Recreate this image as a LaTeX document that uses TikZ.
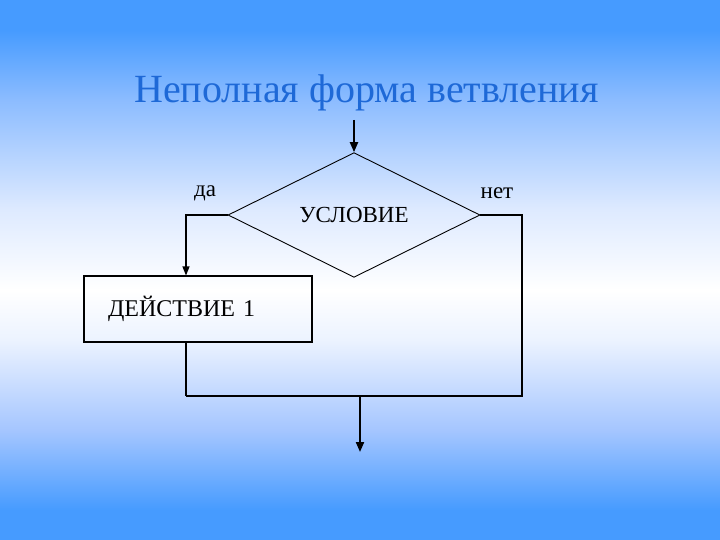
\documentclass[tikz,border=0pt]{standalone}
\usepackage{fontspec}
\setmainfont{Liberation Serif}
\usetikzlibrary{shapes.geometric,arrows.meta}
\definecolor{bgA}{RGB}{70,155,255}
\definecolor{bgB}{RGB}{140,188,255}
\definecolor{bgC}{RGB}{222,234,255}
\definecolor{bgD}{RGB}{236,243,255}
\definecolor{bgE}{RGB}{165,198,255}
\definecolor{titleblue}{RGB}{30,105,215}
\pgfdeclareverticalshading{slidebg}{100bp}{%
  color(0bp)=(bgA); color(25bp)=(bgA); color(27.78bp)=(bgA); color(35.19bp)=(bgE);
  color(43.52bp)=(bgD); color(48.15bp)=(white); color(55.56bp)=(bgC);
  color(65.74bp)=(bgB); color(72.22bp)=(bgA); color(75bp)=(bgA); color(100bp)=(bgA)}
\tikzset{
  flow/.style={draw=black, line width=1.2pt},
  arr/.style={flow, -{Triangle[length=9pt,width=7pt]}},
  bigarr/.style={draw=black, line width=2pt, -{Triangle[length=10pt,width=8pt]}},
  lbl/.style={font=\fontsize{23}{26}\selectfont, text=black, inner sep=0pt},
}
\begin{document}
\begin{tikzpicture}[x=1pt,y=-1pt]
\useasboundingbox (0,0) rectangle (720,540);
\shade[shading=slidebg] (0,0) rectangle (720,540);

\node[anchor=base, text=titleblue, font=\fontsize{40}{44}\selectfont, inner sep=0pt] (title) at (366.5,103) {Неполная форма ветвления};

\node[diamond, draw=black, line width=0.9pt, minimum width=252pt, minimum height=107pt, inner sep=0pt, lbl] (cond) at (354,215) {УСЛОВИЕ};

\node[rectangle, draw=black, line width=1.1pt, minimum width=228pt, minimum height=66pt, inner xsep=24pt, text width=180pt, align=left, lbl, font=\fontsize{24}{26}\selectfont] (act) at (198,309) {\raisebox{-8.5pt}{ДЕЙСТВИЕ 1}};

\node[lbl] (yes) at (205,193) {да};
\node[lbl] (no) at (497,193) {нет};

\coordinate (start) at (354,120);
\coordinate (lx) at (186,0);
\coordinate (rj) at (522,396);
\coordinate (lj) at (186,396);
\coordinate (mj) at (360,396);
\coordinate (finish) at (360,452);

\draw[bigarr] (start) -- (cond.north);
\draw[arr] (cond.west) -| (lx |- act.north);
\draw[flow] (cond.east) -| (rj) -- (lj);
\draw[flow] (lx |- act.south) -- (lj);
\draw[bigarr] (mj) -- (finish);
\end{tikzpicture}
\end{document}
